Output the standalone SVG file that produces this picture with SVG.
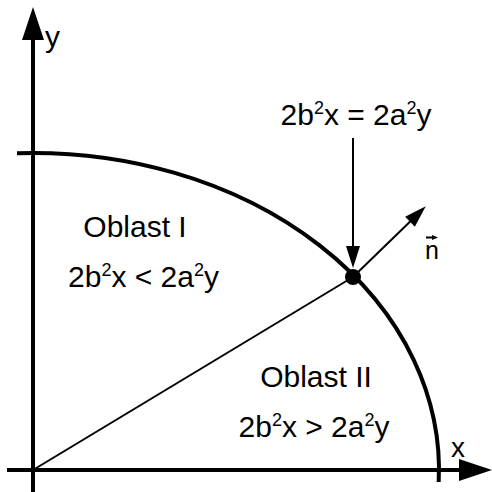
<svg xmlns="http://www.w3.org/2000/svg" width="492" height="492" viewBox="0 0 492 492">
<style>
text{font-family:"Liberation Sans",Arial,sans-serif;fill:#000;}
.lbl{font-size:30px;text-anchor:middle;}
.sup{font-size:18px;}
.axis{stroke:#000;stroke-width:4;fill:none;}
.thin{stroke:#000;stroke-width:2;fill:none;}
</style>
<defs>
<marker id="bigHead" markerUnits="userSpaceOnUse" markerWidth="34" markerHeight="24" refX="0" refY="11" orient="auto" overflow="visible">
<path d="M-1,0 L32,11 L-1,22 z" fill="#000"/>
</marker>
<marker id="smallHead" markerUnits="userSpaceOnUse" markerWidth="22" markerHeight="16" refX="0" refY="7" orient="auto" overflow="visible">
<path d="M-1,0 L21,7 L-1,14 z" fill="#000"/>
</marker>
<marker id="vecHead" markerUnits="userSpaceOnUse" markerWidth="8" markerHeight="6" refX="0" refY="2.5" orient="auto" overflow="visible">
<path d="M-1,0 L5,2.5 L-1,5 z" fill="#000"/>
</marker>
</defs>
<g id="connectors">
<line id="x-axis" class="axis" x1="7" y1="470" x2="460" y2="470" marker-end="url(#bigHead)"/>
<line id="y-axis" class="axis" x1="33" y1="492" x2="33" y2="39" marker-end="url(#bigHead)"/>
<path id="ellipse" class="axis" d="M17,153.2 A406 317 0 0 1 438.7,482"/>
<line id="radius" class="thin" x1="33" y1="470" x2="353" y2="277"/>
<line id="pointer" class="thin" x1="353" y1="138" x2="353" y2="247" marker-end="url(#smallHead)"/>
<line id="normal" class="thin" x1="353" y1="277" x2="410.7" y2="221" marker-end="url(#smallHead)"/>
</g>
<g id="point"><circle cx="353" cy="277" r="8" fill="#000"/></g>
<g id="label-y"><text x="45" y="47" style="font-size:30px">y</text></g>
<g id="label-x"><text x="451" y="457" style="font-size:28px">x</text></g>
<g id="label-n">
<text x="425" y="259" style="font-size:25px">n</text>
<line class="thin" x1="426" y1="237.5" x2="433" y2="237.5" stroke-width="1.3" marker-end="url(#vecHead)"/>
</g>
<g id="equation">
<text class="lbl" x="356" y="125">2b<tspan class="sup" dy="-11">2</tspan><tspan dy="11">x = 2a</tspan><tspan class="sup" dy="-11">2</tspan><tspan dy="11">y</tspan></text>
</g>
<g id="region-1">
<text class="lbl" x="135" y="237">Oblast I</text>
<text class="lbl" x="143.5" y="287">2b<tspan class="sup" dy="-11">2</tspan><tspan dy="11">x &lt; 2a</tspan><tspan class="sup" dy="-11">2</tspan><tspan dy="11">y</tspan></text>
</g>
<g id="region-2">
<text class="lbl" x="316" y="387">Oblast II</text>
<text class="lbl" x="314" y="437">2b<tspan class="sup" dy="-11">2</tspan><tspan dy="11">x &gt; 2a</tspan><tspan class="sup" dy="-11">2</tspan><tspan dy="11">y</tspan></text>
</g>
</svg>
